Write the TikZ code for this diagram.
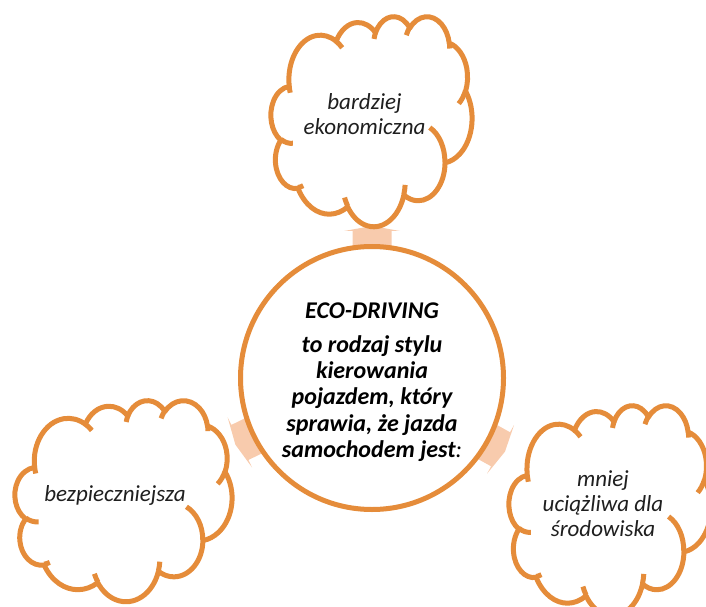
\documentclass[tikz,border=0pt]{standalone}
\usepackage{fontspec}
\setmainfont{Carlito}

\definecolor{ecoorange}{RGB}{229,140,58}
\definecolor{ecopeach}{RGB}{248,203,173}

% cloud outline in a 100 x 100 box, y pointing down
\newcommand\cloudseg{}
\newcommand\cloudarc[4]{%
  \pgfmathsetmacro\ta{atan2((#1)*sin(#3),(#2)*cos(#3))}%
  \pgfmathsetmacro\tb{\ta+mod(atan2((#1)*sin(#3+#4),(#2)*cos(#3+#4))-\ta+720,360)}%
  \xdef\cloudseg{arc[start angle=\ta,end angle=\tb,x radius=#1,y radius=#2]}}
\xdef\cloudout{(9.028,33.264)}
\foreach \w/\h/\s/\d in {15.632/21.273/-190.488/123.781, 12.345/16.822/-144.102/89.945,
    10.104/13.762/-145.808/99.723, 11.243/15.266/-130.986/117.242, 12.345/16.836/-78.709/109.027,
    15.683/21.343/-46.267/130.269, 13.391/18.211/0.625/114.033, 15.630/21.331/22.452/115.173,
    17.870/24.405/66.243/75.711, 10.093/13.699/-274.942/146.736, 10.058/13.762/-246.829/152.519}{%
  \cloudarc{\w}{\h}{\s}{\d}%
  \xdef\cloudout{\cloudout\space\cloudseg}}
% small inner strokes of the cloud
\xdef\cloudin{}
\foreach \x/\y/\w/\h/\s/\d in {10.863/60.595/10.058/13.762/86.742/26.430,
    16.037/80.785/10.093/13.699/73.610/11.447, 38.144/90.486/15.630/21.331/137.624/14.081,
    66.729/80.442/15.630/21.331/6.453/15.998, 79.002/53.134/13.391/18.211/-70.292/70.917,
    96.755/35.542/12.345/16.836/30.318/27.752, 88.713/12.560/11.243/15.266/-13.744/14.859,
    67.310/9.148/11.243/15.266/-149.181/18.195, 51.252/10.926/10.104/13.762/-163.494/17.686,
    32.407/12.019/15.632/21.273/-66.707/12.319, 9.553/36.549/15.632/21.273/157.654/11.858}{%
  \cloudarc{\w}{\h}{\s}{\d}%
  \xdef\cloudin{\cloudin\space(\x,\y)\space\cloudseg}}

\begin{document}
\begin{tikzpicture}[x=1pt, y=1pt,
    cloudline/.style={draw=ecoorange, line width=5pt, line join=round},
    cloudtext/.style={align=center, text=black!88, font=\fontsize{23}{25}\selectfont\itshape},
    ecotext/.style={align=center, font=\fontsize{24}{26.3}\selectfont\bfseries\itshape}]
  \useasboundingbox (0,0) rectangle (706,606);
  \coordinate (mid) at (372,228);

  % Arrows from the circle to the clouds
  \foreach \a in {90,206,-29}
    \fill[ecopeach, shift={(mid)}, rotate=\a] (128,-19.5) -- (147,-19.5) -- (147,-28)
      -- (152,0) -- (147,28) -- (147,19.5) -- (128,19.5) -- cycle;

  % Central circle
  \node[circle, draw=ecoorange, line width=5pt, fill=white, minimum size=263pt, inner sep=0pt] (eco) at (mid) {};
  \node[ecotext] (ecotxt) at ([yshift=-4pt]eco.center)
    {ECO-DRIVING\\[8pt] to rodzaj stylu\\ kierowania\\ pojazdem, który\\ sprawia, że jazda\\ samochodem jest{\mdseries :}};

  % Clouds
  \foreach \x/\y/\w/\h in {271/590/2.01/2.10, 15/206/2.17/2.01, 509/201/2.02/2.10}{
    \begin{scope}[shift={(\x,\y)}, xscale=\w, yscale=-\h]
      \draw[cloudline, fill=white] \cloudout -- cycle;
      \draw[cloudline] \cloudin;
    \end{scope}
  }
  \node[cloudtext] (econ) at (364.5,492) {bardziej\\ ekonomiczna};
  \node[cloudtext] (safe) at (115,111) {bezpieczniejsza};
  \node[cloudtext] (env) at (603,102) {mniej\\ uciążliwa dla\\ środowiska};
\end{tikzpicture}
\end{document}
